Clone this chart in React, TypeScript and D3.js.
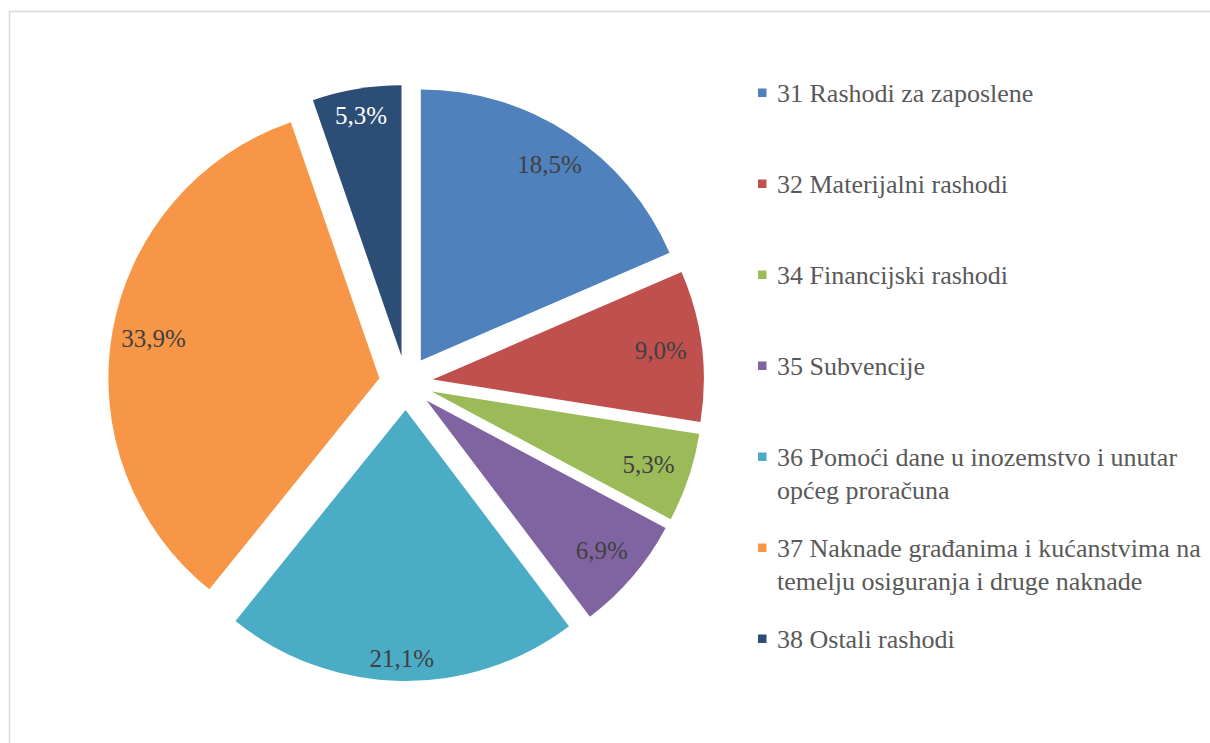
import React, { useEffect, useRef } from 'react';
import * as d3 from 'd3';

const categories = [
  '31 Rashodi za zaposlene',
  '32 Materijalni rashodi',
  '34 Financijski rashodi',
  '35 Subvencije',
  '36 Pomoći dane u inozemstvo i unutar općeg proračuna',
  '37 Naknade građanima i kućanstvima na temelju osiguranja i druge naknade',
  '38 Ostali rashodi',
];
const legendLines = [
  ['31 Rashodi za zaposlene'],
  ['32 Materijalni rashodi'],
  ['34 Financijski rashodi'],
  ['35 Subvencije'],
  ['36 Pomoći dane u inozemstvo i unutar', 'općeg proračuna'],
  ['37 Naknade građanima i kućanstvima na', 'temelju osiguranja i druge naknade'],
  ['38 Ostali rashodi'],
];
const shares = [18.5, 9.0, 5.3, 6.9, 21.1, 33.9, 5.3];
const colors = ['#4F81BD', '#C0504D', '#9BBB59', '#8064A2', '#4BACC6', '#F79646', '#2C4D75'];
const labelColors = ['#404040', '#404040', '#404040', '#404040', '#404040', '#404040', '#ffffff'];

const App = () => {
  const svgRef = useRef<SVGSVGElement>(null);

  useEffect(() => {
    const svg = d3.select(svgRef.current);
    svg.selectAll('*').remove();

    const font = "'Liberation Serif', 'Times New Roman', serif";

    // chart area border
    svg.append('rect')
      .attr('x', 9.5).attr('y', 11.5)
      .attr('width', 1300).attr('height', 800)
      .attr('fill', 'none')
      .attr('stroke', '#d9d9d9')
      .attr('stroke-width', 1.5);

    const cx = 406, cy = 383;
    const radius = 271;
    const explode = 27;

    const data = categories.map((c, i) => ({ name: c, value: shares[i], i }));
    const pie = d3.pie<any>().value(d => d.value).sort(null);
    const arcs = pie(data);
    const arc = d3.arc<any>().innerRadius(0).outerRadius(radius);

    const g = svg.append('g').attr('transform', `translate(${cx},${cy})`);

    const slices = g.selectAll('g.slice')
      .data(arcs)
      .enter()
      .append('g')
      .attr('class', 'slice')
      .attr('transform', d => {
        const mid = (d.startAngle + d.endAngle) / 2;
        return `translate(${Math.sin(mid) * explode},${-Math.cos(mid) * explode})`;
      });

    slices.append('path')
      .attr('d', arc)
      .attr('fill', d => colors[d.data.i]);

    // labels sit near the outer edge, kept inside the slice
    const labelR = (a: number) => radius - 10 - Math.abs(Math.sin(a)) * 30 - Math.abs(Math.cos(a)) * 12;

    slices.append('text')
      .attr('x', d => { const a = (d.startAngle + d.endAngle) / 2; return Math.sin(a) * labelR(a); })
      .attr('y', d => { const a = (d.startAngle + d.endAngle) / 2; return -Math.cos(a) * labelR(a); })
      .attr('text-anchor', 'middle')
      .attr('dominant-baseline', 'central')
      .style('font-family', font)
      .attr('font-size', 25)
      .attr('fill', d => labelColors[d.data.i])
      .text(d => d.data.value.toFixed(1).replace('.', ',') + '%');

    // legend
    const legendX = 758;
    const rowY = d3.scaleLinear().domain([0, 1]).range([93, 184]);
    const legend = svg.append('g');
    legendLines.forEach((lines, i) => {
      const y = rowY(i);
      legend.append('rect')
        .attr('x', legendX).attr('y', y - 4.5)
        .attr('width', 8.5).attr('height', 8.5)
        .attr('fill', colors[i]);
      lines.forEach((line, j) => {
        legend.append('text')
          .attr('x', legendX + 19)
          .attr('y', y + j * 33)
          .attr('dominant-baseline', 'central')
          .style('font-family', font)
          .attr('font-size', 26)
          .attr('fill', '#595959')
          .text(line);
      });
    });
  }, []);

  return (
    <div style={{ position: 'absolute', left: 0, top: 0 }}>
      <svg ref={svgRef} width={1210} height={743} style={{ display: 'block' }} />
    </div>
  );
};

export default App;
